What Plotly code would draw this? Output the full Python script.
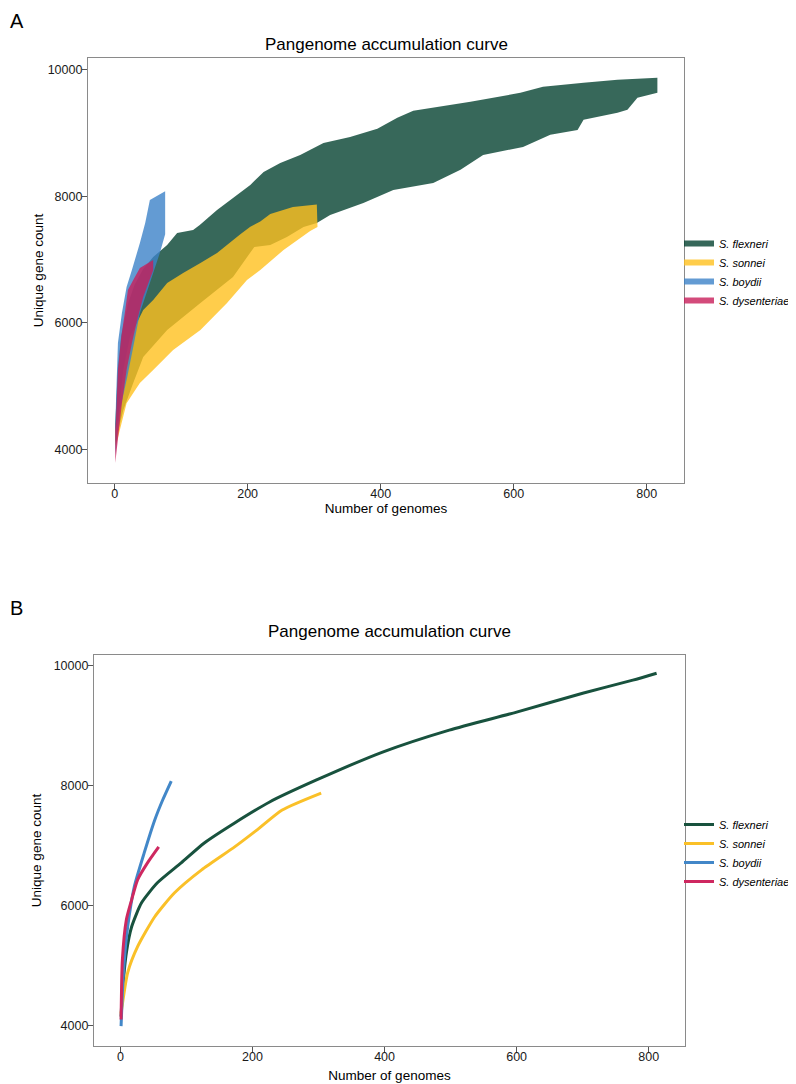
import plotly.graph_objects as go

# ---------------- Panel A: ribbons (range of unique gene counts) ----------------
species = ["S. flexneri", "S. sonnei", "S. boydii", "S. dysenteriae"]

flex_up_x = [1, 5, 10, 20, 30, 43, 58, 79, 94, 118, 128, 154, 178, 204, 224, 249, 279, 314, 354, 395, 425, 449, 535, 610, 644, 705, 756, 816]
flex_up_y = [4400, 5300, 5800, 6300, 6600, 6850, 7040, 7230, 7420, 7468, 7547, 7785, 7975, 8180, 8386, 8529, 8655, 8845, 8940, 9067, 9241, 9352, 9495, 9637, 9732, 9795, 9843, 9875]
flex_lo_x = [1, 13, 28, 43, 79, 129, 178, 210, 234, 259, 284, 304, 324, 374, 419, 479, 520, 554, 614, 655, 696, 705, 756, 771, 786, 816]
flex_lo_y = [4100, 4617, 5045, 5457, 5884, 6312, 6724, 7200, 7230, 7357, 7516, 7579, 7705, 7895, 8101, 8212, 8420, 8655, 8782, 8972, 9051, 9210, 9321, 9368, 9558, 9637]

son_up_x = [1, 5, 13, 23, 43, 58, 79, 103, 129, 154, 189, 204, 219, 234, 268, 304]
son_up_y = [4300, 4459, 5251, 5773, 6201, 6360, 6629, 6787, 6945, 7104, 7400, 7520, 7600, 7720, 7832, 7870]
son_lo_x = [1, 4, 18, 38, 58, 88, 129, 169, 199, 219, 254, 294, 305]
son_lo_y = [4050, 4140, 4728, 5045, 5251, 5568, 5884, 6312, 6676, 6834, 7151, 7450, 7516]

boy_up_x = [1, 2, 5, 11, 18, 26, 38, 46, 53, 76]
boy_up_y = [4300, 4728, 5678, 6153, 6565, 6834, 7262, 7579, 7943, 8080]
boy_lo_x = [1, 8, 19, 28, 38, 68, 76]
boy_lo_y = [3900, 4617, 5140, 5615, 6153, 7104, 7400]

dys_up_x = [1, 2, 5, 10, 16, 20, 28, 38, 58]
dys_up_y = [4300, 4459, 5251, 5773, 6201, 6518, 6676, 6866, 6993]
dys_lo_x = [1, 11, 18, 26, 34, 43, 58]
dys_lo_y = [3780, 4728, 5251, 5678, 6043, 6407, 6830]

# ---------------- Panel B: mean accumulation curves ----------------
flex_x = [1, 3, 9, 17, 32, 56, 92, 127, 173, 226, 297, 397, 498, 600, 700, 776, 812]
flex_y = [4150, 4548, 5213, 5645, 6044, 6377, 6709, 7041, 7374, 7723, 8089, 8554, 8920, 9219, 9534, 9751, 9867]
son_x = [1, 11, 26, 52, 82, 123, 173, 206, 245, 304]
son_y = [4200, 4881, 5313, 5812, 6211, 6593, 6975, 7250, 7590, 7872]
boy_x = [1, 3, 6, 11, 21, 36, 52, 64, 77]
boy_y = [3990, 4548, 5097, 5645, 6310, 6875, 7424, 7756, 8072]
dys_x = [1, 3, 9, 17, 26, 41, 58]
dys_y = [4100, 5097, 5762, 6094, 6427, 6709, 6975]

x_ticks = [0, 200, 400, 600, 800]
y_ticks = [4000, 6000, 8000, 10000]
y_tick_labels = ["4000", "6000", "8000", "10000"]

base_rgb = [(5, 66, 49), (255, 193, 30), (60, 130, 200), (200, 30, 90)]
line_rgb = [(24, 82, 62), (250, 192, 40), (66, 135, 200), (206, 40, 96)]
alpha = 0.8

ribbons = [
    (flex_up_x, flex_up_y, flex_lo_x, flex_lo_y),
    (son_up_x, son_up_y, son_lo_x, son_lo_y),
    (boy_up_x, boy_up_y, boy_lo_x, boy_lo_y),
    (dys_up_x, dys_up_y, dys_lo_x, dys_lo_y),
]
means = [(flex_x, flex_y), (son_x, son_y), (boy_x, boy_y), (dys_x, dys_y)]

fig = go.Figure()

for name, (ux, uy, lx, ly), c in zip(species, ribbons, base_rgb):
    fig.add_trace(go.Scatter(
        x=list(ux) + list(lx)[::-1],
        y=list(uy) + list(ly)[::-1],
        fill="toself", mode="none",
        fillcolor=f"rgba({c[0]},{c[1]},{c[2]},{alpha})",
        name=f"<i>{name}</i>", legend="legend",
        xaxis="x", yaxis="y", hoverinfo="skip",
    ))

for name, (mx, my), c in zip(species, means, line_rgb):
    fig.add_trace(go.Scatter(
        x=mx, y=my, mode="lines",
        line=dict(color=f"rgb({c[0]},{c[1]},{c[2]})", width=3, shape="spline", smoothing=0.6),
        name=f"<i>{name}</i>", legend="legend2",
        xaxis="x2", yaxis="y2",
    ))

# The page body has an 8px margin, so the figure is sized to fill the rest.
OFF = 8
W, H = 796 - OFF, 1084 - OFF
FONT = "Liberation Sans, Arial, Helvetica, sans-serif"

def px_x(p):
    return (p - OFF) / W

def px_y(p):
    return 1 - (p - OFF) / H

axis_common = dict(
    showgrid=False, zeroline=False, showline=True, mirror=True,
    linecolor="#8a8a8a", linewidth=1.2, automargin=False,
    ticks="outside", ticklen=5, tickcolor="#555555", tickwidth=1,
    tickfont=dict(size=12.5, color="#1a1a1a", family=FONT),
)

fig.update_layout(
    width=W, height=H,
    margin=dict(l=0, r=0, t=0, b=0, autoexpand=False),
    paper_bgcolor="white", plot_bgcolor="white",
    font=dict(family=FONT, color="black"),
    xaxis=dict(domain=[px_x(88), px_x(684)], anchor="y", range=[-40, 856],
               tickvals=x_ticks, ticklabelstandoff=-6,
               title=dict(text="Number of genomes", font=dict(size=13.5), standoff=0),
               **axis_common),
    yaxis=dict(domain=[px_y(483), px_y(58)], anchor="x", range=[3465, 10188],
               tickvals=y_ticks, ticktext=y_tick_labels, ticklabelstandoff=-3,
               title=dict(text="Unique gene count", font=dict(size=13.5), standoff=0),
               **axis_common),
    xaxis2=dict(domain=[px_x(94), px_x(685)], anchor="y2", range=[-40, 855],
                tickvals=x_ticks, ticklabelstandoff=-6,
                title=dict(text="Number of genomes", font=dict(size=13.5), standoff=7),
                **axis_common),
    yaxis2=dict(domain=[px_y(1046), px_y(655)], anchor="x2", range=[3660, 10170],
                tickvals=y_ticks, ticktext=y_tick_labels, ticklabelstandoff=-3,
                title=dict(text="Unique gene count", font=dict(size=13.5), standoff=8),
                **axis_common),
    legend=dict(x=px_x(679), y=px_y(229), xanchor="left", yanchor="top",
                font=dict(size=11, family=FONT), bgcolor="rgba(0,0,0,0)",
                tracegroupgap=0, itemclick=False),
    legend2=dict(x=px_x(679), y=px_y(810), xanchor="left", yanchor="top",
                 font=dict(size=11, family=FONT), bgcolor="rgba(0,0,0,0)",
                 tracegroupgap=0, itemclick=False),
    annotations=[
        dict(text="Pangenome accumulation curve", x=(px_x(88) + px_x(684)) / 2, y=px_y(44),
             xref="paper", yref="paper", showarrow=False, font=dict(size=17),
             xanchor="center", yanchor="middle"),
        dict(text="Pangenome accumulation curve", x=(px_x(94) + px_x(685)) / 2, y=px_y(631),
             xref="paper", yref="paper", showarrow=False, font=dict(size=17),
             xanchor="center", yanchor="middle"),
        dict(text="A", x=0, y=1, xref="paper", yref="paper",
             showarrow=False, font=dict(size=20), xanchor="left", yanchor="top"),
        dict(text="B", x=0, y=px_y(608), xref="paper", yref="paper",
             showarrow=False, font=dict(size=20), xanchor="left", yanchor="middle"),
    ],
)

fig.write_html("out.html")
